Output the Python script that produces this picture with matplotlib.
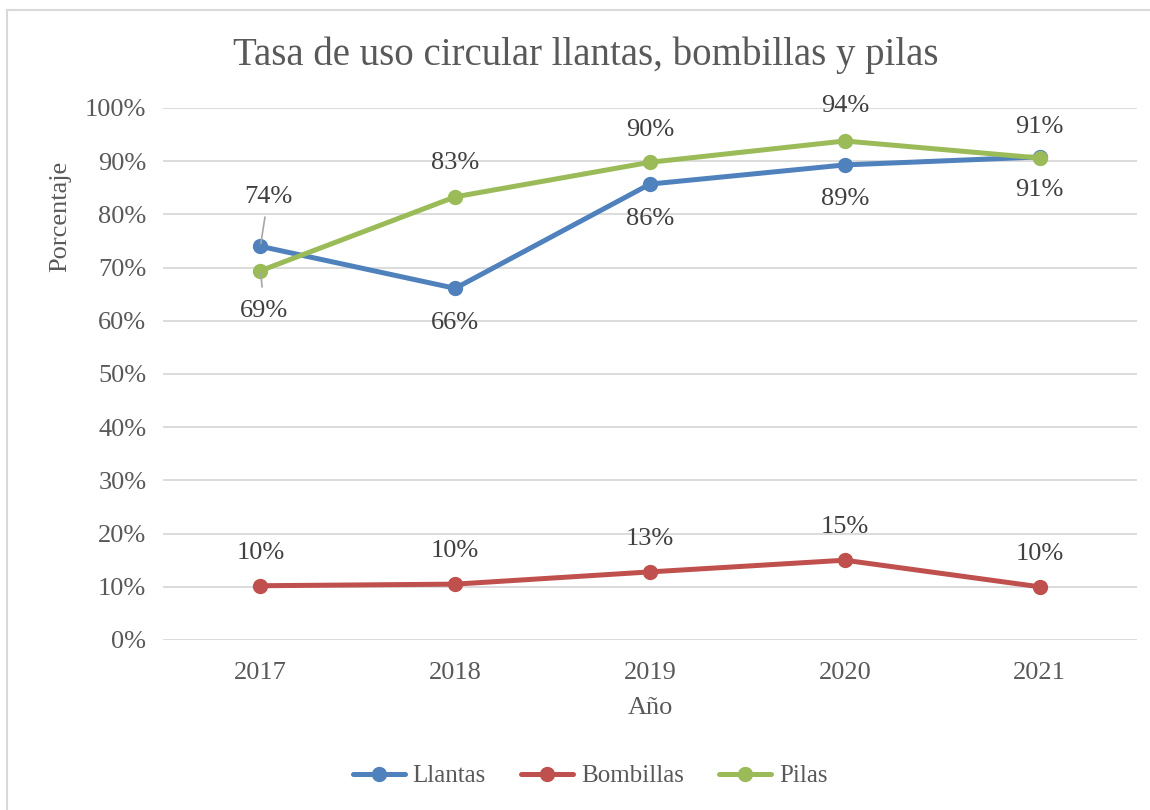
import matplotlib.pyplot as plt
from matplotlib.lines import Line2D
from matplotlib.ticker import FuncFormatter

years = ['2017', '2018', '2019', '2020', '2021']
llantas = [74.0, 66.1, 85.7, 89.3, 90.8]
bombillas = [10.2, 10.5, 12.8, 15.0, 10.0]
pilas = [69.4, 83.3, 89.8, 93.8, 90.6]
llantas_lbl = ['74%', '66%', '86%', '89%', '91%']
bombillas_lbl = ['10%', '10%', '13%', '15%', '10%']
pilas_lbl = ['69%', '83%', '90%', '94%', '91%']

gray = '#595959'
plt.rcParams['font.family'] = ['Liberation Serif', 'DejaVu Serif']

fig = plt.figure(figsize=(11.5, 8.1), dpi=100)
W, H = 1150, 810
ax = fig.add_axes([163 / W, 1 - 640 / H, (1137 - 163) / W, (640 - 108) / H])

x = list(range(len(years)))
series = [('Llantas', llantas, '#4f81bd'),
          ('Bombillas', bombillas, '#c0504d'),
          ('Pilas', pilas, '#9bbb59')]
for name, vals, col in series:
    ax.plot(x, vals, color=col, lw=3.6, marker='o', ms=10, label=name,
            solid_capstyle='round', zorder=3)

# data labels (offsets in pixels)
off_ll = [(8, 49), (0, -35), (0, -35), (0, -34), (0, -33)]
off_pi = [(4, -40), (0, 34), (0, 32), (0, 35), (0, 31)]
for i in x:
    ax.annotate(llantas_lbl[i], (i, llantas[i]), xytext=off_ll[i],
                textcoords='offset pixels', ha='center', va='center',
                fontsize=19, color='#404040')
    ax.annotate(pilas_lbl[i], (i, pilas[i]), xytext=off_pi[i],
                textcoords='offset pixels', ha='center', va='center',
                fontsize=19, color='#404040')
    ax.annotate(bombillas_lbl[i], (i, bombillas[i]), xytext=(0, 33),
                textcoords='offset pixels', ha='center', va='center',
                fontsize=19, color='#404040')

# leader lines for 2017
ax.annotate('', (0, llantas[0]), xytext=(5, 32), textcoords='offset pixels',
            arrowprops=dict(arrowstyle='-', color='#a6a6a6', lw=1.2))
ax.annotate('', (0, pilas[0]), xytext=(2, -19), textcoords='offset pixels',
            arrowprops=dict(arrowstyle='-', color='#a6a6a6', lw=1.2))

ax.set_xlim(-0.5, 4.5)
ax.set_ylim(0, 100)
ax.set_yticks(range(0, 101, 10))
ax.yaxis.set_major_formatter(FuncFormatter(lambda v, p: f'{v:.0f}%'))
ax.set_xticks(x)
ax.set_xticklabels(years)
ax.grid(axis='y', color='#d9d9d9', lw=1.3)
ax.set_axisbelow(True)
for s in ax.spines.values():
    s.set_visible(False)
ax.tick_params(length=0, labelsize=19, colors=gray)
ax.tick_params(axis='x', pad=16)
ax.tick_params(axis='y', pad=12)

fig.text(586 / W, 1 - 55 / H, 'Tasa de uso circular llantas, bombillas y pilas',
         ha='center', va='center', fontsize=28, color=gray)
fig.text(60 / W, 1 - 216 / H, 'Porcentaje', rotation=90, ha='center',
         va='center', fontsize=19, color=gray)
fig.text(650 / W, 1 - 708 / H, 'Año', ha='center', va='center',
         fontsize=19, color=gray)

fig.legend(loc='center', bbox_to_anchor=(590 / W, 1 - 776 / H), ncol=3,
           frameon=False, fontsize=18, labelcolor=gray, handlelength=2.1,
           columnspacing=1.4, handletextpad=0.3)

fig.add_artist(Line2D([7 / W, 1], [1 - 10 / H, 1 - 10 / H], color='#d9d9d9',
                      lw=1.5, transform=fig.transFigure))
fig.add_artist(Line2D([7 / W, 7 / W], [0, 1 - 10 / H], color='#d9d9d9',
                      lw=1.5, transform=fig.transFigure))

fig.savefig('out.png', dpi=100)
